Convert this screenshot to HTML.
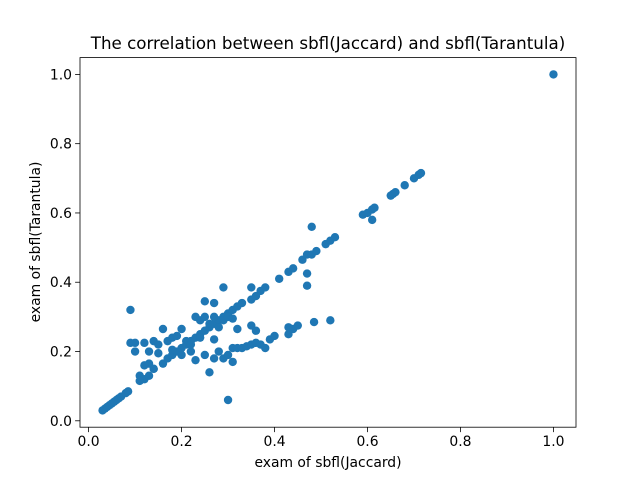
<!DOCTYPE html>
<html><head><meta charset="utf-8"><style>
html,body{margin:0;padding:0;background:#fff;}
svg{display:block;font-family:"DejaVu Sans","Liberation Sans",sans-serif;}
</style></head><body>
<svg id="chart" width="640" height="480">
<rect x="0" y="0" width="640" height="480" fill="#fff"/>
<text x="328" y="49" text-anchor="middle" font-size="16.7" fill="#000">The correlation between sbfl(Jaccard) and sbfl(Tarantula)</text>
<g id="points"></g>
<g id="axes"></g>
<text x="328" y="467" text-anchor="middle" font-size="13.9">exam of sbfl(Jaccard)</text>
<text transform="translate(40,242) rotate(-90)" text-anchor="middle" font-size="13.9">exam of sbfl(Tarantula)</text>
</svg>
<script>
const xTicks=[0,0.2,0.4,0.6,0.8,1.0];
const yTicks=[0,0.2,0.4,0.6,0.8,1.0];
const tickLabels=["0.0","0.2","0.4","0.6","0.8","1.0"];
const xs=[0.03,0.035,0.04,0.045,0.05,0.055,0.06,0.065,0.07,0.08,0.085,
0.09,0.3,0.48,1.0,
0.11,0.12,0.13,0.14,0.16,0.17,0.18,0.19,0.2,0.21,0.22,0.23,0.24,0.25,0.26,0.27,0.28,0.29,0.3,0.31,0.32,0.33,0.35,0.36,0.37,0.38,0.41,0.43,0.44,0.46,0.47,0.48,0.49,0.51,0.52,0.53,0.59,0.6,0.61,0.615,0.65,0.655,0.66,0.68,0.7,0.71,0.715,0.61,0.47,0.47,
0.25,0.26,0.27,0.28,0.29,0.3,0.31,0.31,0.32,0.33,0.34,0.35,0.36,0.37,0.38,0.39,0.4,0.43,0.44,0.43,0.45,0.485,0.52,0.35,0.36,0.32,0.27,0.23,0.29,0.27,0.25,0.35,
0.09,0.1,0.1,0.12,0.13,0.14,0.15,0.15,0.16,0.13,0.12,0.14,0.11,0.17,0.18,0.19,0.2,0.21,0.22,0.24,0.25,0.26,0.27,0.28,0.29,0.3,0.31,0.23,0.22,0.24,0.2,0.18];
const ys=[0.03,0.035,0.04,0.045,0.05,0.055,0.06,0.065,0.07,0.08,0.085,
0.32,0.06,0.56,1.0,
0.13,0.12,0.13,0.15,0.165,0.18,0.19,0.2,0.21,0.22,0.23,0.24,0.25,0.26,0.27,0.28,0.29,0.3,0.31,0.32,0.33,0.34,0.35,0.36,0.375,0.385,0.41,0.43,0.44,0.465,0.48,0.48,0.49,0.51,0.52,0.53,0.595,0.6,0.61,0.615,0.65,0.655,0.66,0.68,0.7,0.71,0.715,0.58,0.425,0.39,
0.19,0.14,0.18,0.2,0.18,0.19,0.17,0.21,0.21,0.21,0.215,0.22,0.225,0.22,0.21,0.235,0.245,0.25,0.265,0.27,0.275,0.285,0.29,0.275,0.26,0.265,0.235,0.175,0.385,0.34,0.345,0.385,
0.225,0.225,0.2,0.225,0.2,0.23,0.22,0.195,0.265,0.165,0.16,0.15,0.115,0.23,0.24,0.245,0.265,0.23,0.2,0.29,0.3,0.28,0.3,0.27,0.29,0.3,0.295,0.3,0.22,0.24,0.19,0.205];
const L=80,R=576,T=57.6,B=427.2;
const xmin=-0.0185,xmax=1.0485,ymin=-0.0185,ymax=1.0485;
const sx=v=>L+(v-xmin)/(xmax-xmin)*(R-L);
const sy=v=>B-(v-ymin)/(ymax-ymin)*(B-T);
const NS="http://www.w3.org/2000/svg";
const pg=document.getElementById('points');
for(let i=0;i<xs.length;i++){
const c=document.createElementNS(NS,'circle');
c.setAttribute('cx',sx(xs[i]));c.setAttribute('cy',sy(ys[i]));c.setAttribute('r',4.2);c.setAttribute('fill','#1f77b4');


pg.appendChild(c);
}
const ag=document.getElementById('axes');
const fr=document.createElementNS(NS,'rect');
fr.setAttribute('x',L);fr.setAttribute('y',T);fr.setAttribute('width',R-L);fr.setAttribute('height',B-T);
fr.setAttribute('fill','none');fr.setAttribute('stroke','#000');fr.setAttribute('stroke-width','0.8');


ag.appendChild(fr);
xTicks.forEach((v,i)=>{
const x=sx(v);
const l=document.createElementNS(NS,'line');
l.setAttribute('x1',x);l.setAttribute('x2',x);l.setAttribute('y1',B);l.setAttribute('y2',B+4.9);l.setAttribute('stroke','#000');l.setAttribute('stroke-width','0.8');


ag.appendChild(l);
const t=document.createElementNS(NS,'text');
t.setAttribute('x',x);t.setAttribute('y',B+19);t.setAttribute('text-anchor','middle');t.setAttribute('font-size','13.9');
t.textContent=tickLabels[i];


ag.appendChild(t);
});
yTicks.forEach((v,i)=>{
const y=sy(v);
const l=document.createElementNS(NS,'line');
l.setAttribute('x1',L-4.9);l.setAttribute('x2',L);l.setAttribute('y1',y);l.setAttribute('y2',y);l.setAttribute('stroke','#000');l.setAttribute('stroke-width','0.8');


ag.appendChild(l);
const t=document.createElementNS(NS,'text');
t.setAttribute('x',L-8);t.setAttribute('y',y+5);t.setAttribute('text-anchor','end');t.setAttribute('font-size','13.9');
t.textContent=tickLabels[i];


ag.appendChild(t);
});
</script>
</body></html>
